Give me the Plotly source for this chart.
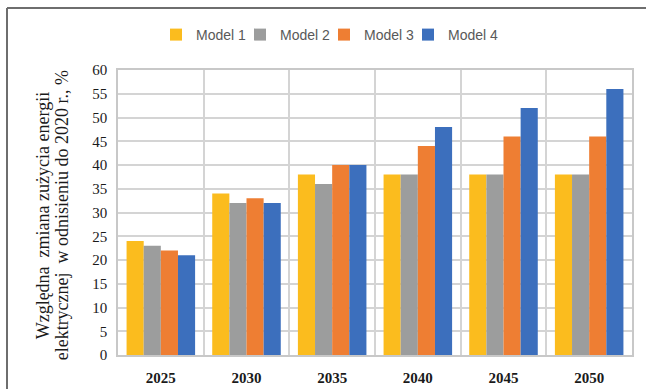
import plotly.graph_objects as go

# Forecast years and the relative change in electricity use per model (%)
years = ["2025", "2030", "2035", "2040", "2045", "2050"]
model_names = ["Model 1", "Model 2", "Model 3", "Model 4"]
model_1 = [24, 34, 38, 38, 38, 38]
model_2 = [23, 32, 36, 38, 38, 38]
model_3 = [22, 33, 40, 44, 46, 46]
model_4 = [21, 32, 40, 48, 52, 56]
y_ticks = list(range(0, 61, 5))
title_lines = ["Względna  zmiana zużycia energii",
               "elektrycznej  w odnisieniu do 2020 r., %"]

series = [model_1, model_2, model_3, model_4]
colors = ["#FBBC1E", "#9C9D9D", "#EE7E33", "#3C6FBD"]

fig = go.Figure()
for name, vals, col in zip(model_names, series, colors):
    fig.add_trace(go.Bar(
        x=years, y=vals, name=name,
        marker=dict(color=col, line=dict(width=0)),
    ))

# empty spacer entry so the last legend label keeps its full width
fig.add_trace(go.Scatter(
    x=[None], y=[None], mode="markers", name=" ",
    marker=dict(color="rgba(0,0,0,0)", size=1, line=dict(width=0)),
    showlegend=True, hoverinfo="skip",
))

W, H = 646, 389
ml, mr, mt, mb = 118, 14, 70, 34
pw, ph = W - ml - mr, H - mt - mb

def px_x(p):
    return (p - ml) / pw

def px_y(p):
    return (H - mb - p) / ph

axis_title_font = dict(family="Liberation Serif", size=18, color="#1a1a1a")

fig.update_layout(
    width=W, height=H,
    margin=dict(l=ml, r=mr, t=mt, b=mb, autoexpand=False),
    paper_bgcolor="white", plot_bgcolor="white",
    barmode="group", bargap=0.2, bargroupgap=0,
    showlegend=True,
    legend=dict(
        orientation="h", x=px_x(156), xanchor="left",
        y=px_y(35), yanchor="middle",
        font=dict(family="Liberation Sans", size=14, color="#595959"),
        itemwidth=30, entrywidth=39, entrywidthmode="pixels",
        traceorder="normal",
    ),
    xaxis=dict(
        type="category", tickson="boundaries",
        showgrid=True, gridcolor="#D4D4D4", gridwidth=1.5,
        showline=True, linecolor="#C8C8C8", linewidth=1.5, mirror=True,
        ticks="", ticklen=0, ticklabelstandoff=8,
        tickfont=dict(family="Liberation Serif", size=15, color="#1a1a1a", weight="bold"),
    ),
    yaxis=dict(
        range=[0, 60], tickvals=y_ticks, showgrid=True,
        gridcolor="#D4D4D4", gridwidth=1.5,
        showline=True, linecolor="#C8C8C8", linewidth=1.5, mirror=True,
        ticks="", zeroline=False, ticklabelstandoff=6,
        tickfont=dict(family="Liberation Serif", size=15, color="#1a1a1a"),
    ),
    annotations=[
        dict(text=title_lines[0], xref="paper", yref="paper",
             x=px_x(43), y=0.49, textangle=-90, showarrow=False,
             xanchor="center", yanchor="middle", font=axis_title_font),
        dict(text=title_lines[1], xref="paper", yref="paper",
             x=px_x(62), y=0.49, textangle=-90, showarrow=False,
             xanchor="center", yanchor="middle", font=axis_title_font),
    ],
    shapes=[
        dict(type="line", xref="paper", yref="paper",
             x0=px_x(7), x1=px_x(646), y0=px_y(8), y1=px_y(8),
             line=dict(color="#6E6E6E", width=2)),
        dict(type="line", xref="paper", yref="paper",
             x0=px_x(7), x1=px_x(7), y0=px_y(8), y1=px_y(389),
             line=dict(color="#6E6E6E", width=2)),
    ],
)

fig.write_html("out.html")
